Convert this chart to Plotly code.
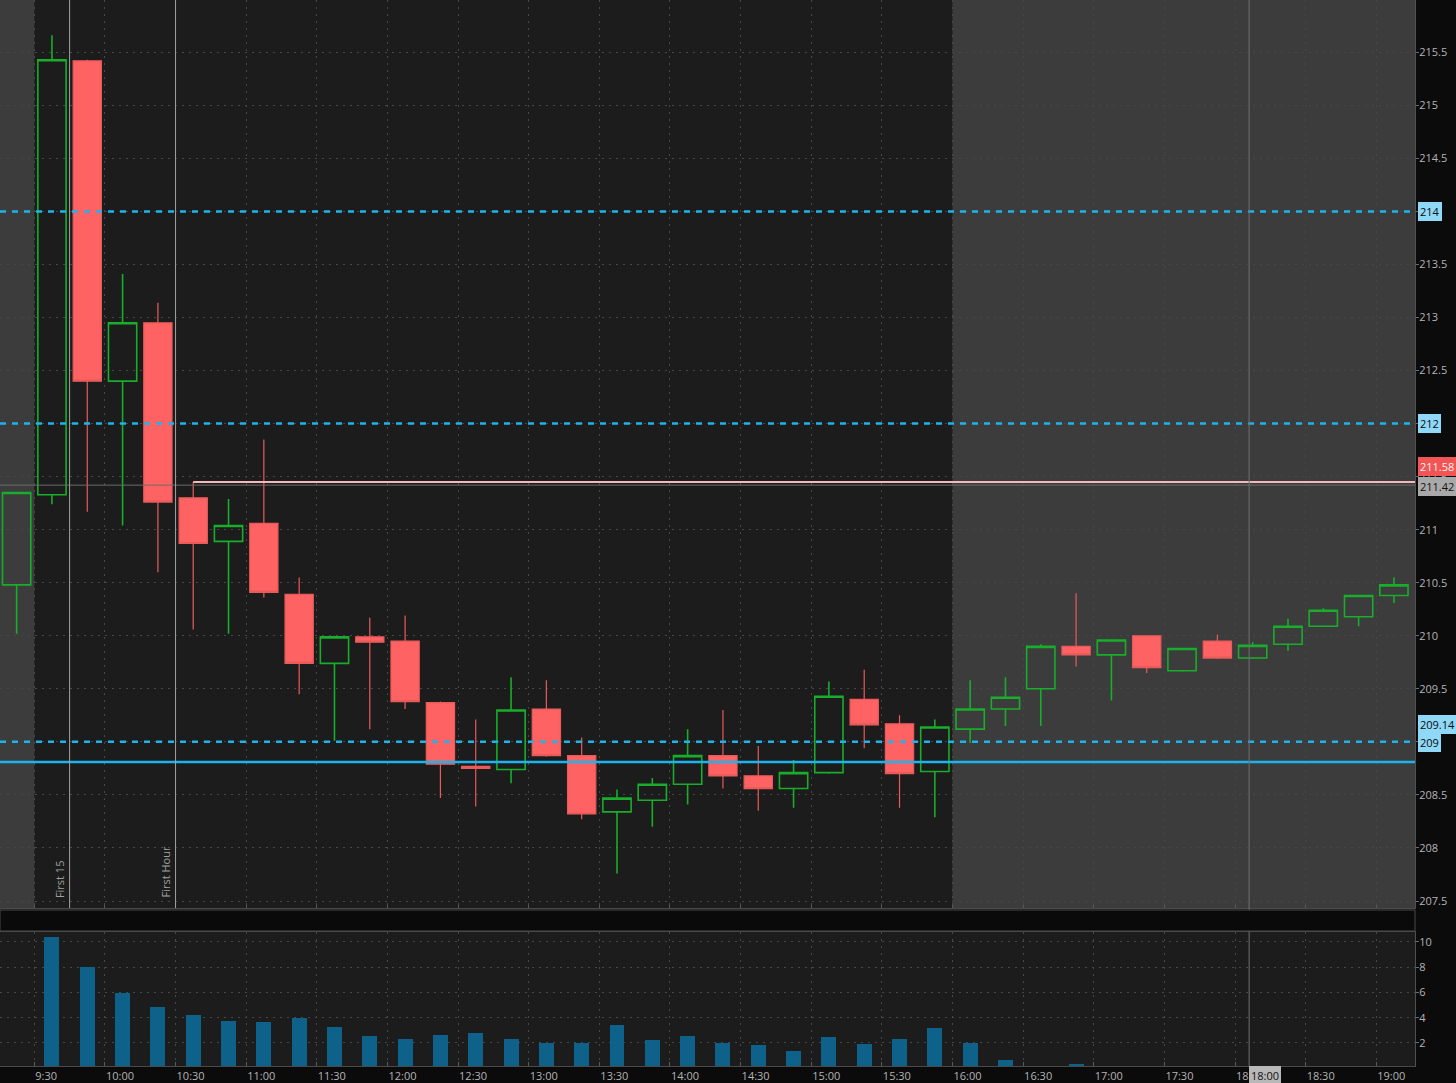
import pandas as pd
import plotly.graph_objects as go

# ---------------- data ----------------
DAY = "2024-01-02"
candle_times = ["9:15", "9:30", "9:45", "10:00", "10:15", "10:30", "10:45", "11:00", "11:15", "11:30",
                "11:45", "12:00", "12:15", "12:30", "12:45", "13:00", "13:15", "13:30", "13:45", "14:00",
                "14:15", "14:30", "14:45", "15:00", "15:15", "15:30", "15:45", "16:00", "16:15", "16:30",
                "16:45", "17:00", "17:15", "17:30", "17:45", "18:00", "18:15", "18:30", "18:45", "19:00"]
opens = [210.48, 211.33, 215.42, 212.40, 212.95, 211.30, 210.89, 211.06, 210.39, 209.74,
         209.99, 209.95, 209.37, 208.77, 208.74, 209.31, 208.87, 208.34, 208.45, 208.60,
         208.87, 208.68, 208.56, 208.71, 209.40, 209.17, 208.72, 209.12, 209.31, 209.50,
         209.90, 209.82, 210.00, 209.67, 209.95, 209.79, 209.92, 210.09, 210.18, 210.38]
highs = [211.35, 215.66, 215.43, 213.41, 213.14, 211.45, 211.29, 211.85, 210.55, 210.00,
         210.17, 210.19, 209.38, 209.21, 209.61, 209.58, 209.04, 208.55, 208.66, 209.12,
         209.30, 208.96, 208.83, 209.57, 209.68, 209.25, 209.21, 209.58, 209.61, 209.92,
         210.40, 209.96, 210.00, 209.88, 210.01, 209.94, 210.16, 210.26, 210.38, 210.55]
lows = [210.02, 211.24, 211.17, 211.04, 210.60, 210.06, 210.02, 210.36, 209.45, 209.01,
        209.12, 209.31, 208.47, 208.39, 208.61, 208.86, 208.27, 207.76, 208.20, 208.41,
        208.56, 208.35, 208.38, 208.70, 208.94, 208.38, 208.29, 208.99, 209.15, 209.15,
        209.71, 209.39, 209.65, 209.66, 209.78, 209.78, 209.86, 210.09, 210.09, 210.31]
closes = [211.35, 215.43, 212.40, 212.95, 211.26, 210.87, 211.04, 210.41, 209.74, 209.99,
          209.94, 209.38, 208.79, 208.75, 209.30, 208.87, 208.32, 208.47, 208.60, 208.87,
          208.68, 208.56, 208.71, 209.43, 209.16, 208.70, 209.14, 209.31, 209.42, 209.90,
          209.82, 209.96, 209.70, 209.88, 209.79, 209.91, 210.09, 210.24, 210.38, 210.48]
volumes = [0, 10.4, 8.03, 5.97, 4.84, 4.19, 3.74, 3.66, 3.95, 3.26,
           2.53, 2.29, 2.61, 2.76, 2.29, 2.0, 2.0, 3.42, 2.24, 2.53,
           2.0, 1.84, 1.39, 2.45, 1.92, 2.31, 3.18, 2.0, 0.66, 0,
           0.3, 0, 0, 0, 0, 0, 0, 0, 0, 0]

time_ticks = ["9:30", "10:00", "10:30", "11:00", "11:30", "12:00", "12:30", "13:00", "13:30", "14:00",
              "14:30", "15:00", "15:30", "16:00", "16:30", "17:00", "17:30", "18:00", "18:30", "19:00"]
price_ticks = [207.5, 208, 208.5, 209, 209.5, 210, 210.5, 211, 211.5, 212, 212.5, 213, 213.5, 214,
               214.5, 215, 215.5]
volume_ticks = [2, 4, 6, 8, 10]

dotted_levels = [214, 212, 209]
solid_level = 208.81
pink_level = 211.45
pink_start = "10:30"
crosshair_price = 211.42
crosshair_time = "18:06"
crosshair_label = "18:00"
session_open, session_close = "9:30", "16:00"
first15_time, first_hour_time = "9:45", "10:30"
view_start, view_end = "9:15:26", "19:16:27"

# (text, value, background, text colour, vertical nudge in px)
bubbles = [("214", 214, "#8fd8f7", "#0a0a0a", 0),
           ("212", 212, "#8fd8f7", "#0a0a0a", 0),
           ("211.58", 211.58, "#f25555", "#f4f4f4", 2),
           ("211.42", 211.42, "#a9a9a9", "#111111", -1),
           ("209.14", 209.14, "#8fd8f7", "#0a0a0a", 3),
           ("209", 209.0, "#8fd8f7", "#0a0a0a", -1)]


def ts(hm):
    return pd.Timestamp(f"{DAY} {hm}")


# ---------------- styles ----------------
W, H = 1456, 1083
PLOT_RIGHT = 1415
BG_DARK = "#1c1c1c"
BG_LIGHT = "#3c3c3c"
PAPER = "#0b0b0b"
GRID = "#474747"
TXT = "#b4b4b4"
FONT = "Open Sans"
BLUE = "#1cb4ee"
PERIOD_MS = 15 * 60 * 1000

price_dom = [(H - 908) / H, 1.0]
vol_dom = [(H - 1066) / H, (H - 932) / H]
x_range = [ts(view_start), ts(view_end)]

x = [ts(t) for t in candle_times]

fig = go.Figure()

fig.add_trace(go.Candlestick(
    x=x, open=opens, high=highs, low=lows, close=closes,
    xperiod=PERIOD_MS, xperiodalignment="middle",
    increasing=dict(line=dict(color="#18ad2a", width=1.6), fillcolor="rgba(0,0,0,0)"),
    decreasing=dict(line=dict(color="#e95a5a", width=1.2), fillcolor="#ff6262"),
    whiskerwidth=0, hoverinfo="skip", showlegend=False, xaxis="x", yaxis="y"))

fig.add_trace(go.Bar(
    x=x, y=volumes, xperiod=PERIOD_MS, xperiodalignment="middle",
    width=15 / 35.32 * PERIOD_MS, marker=dict(color="#0e6189", line=dict(width=0)),
    hoverinfo="skip", showlegend=False, xaxis="x2", yaxis="y2"))

# pink level line from the 10:30 candle to the right edge
fig.add_trace(go.Scatter(
    x=[ts(pink_start) + pd.Timedelta(minutes=7.5), x_range[1]], y=[pink_level, pink_level],
    mode="lines", line=dict(color="#f3b9b9", width=2), hoverinfo="skip", showlegend=False,
    xaxis="x", yaxis="y"))

shapes = []
# session shading (price panel only)
shapes.append(dict(type="rect", xref="x", yref="y domain", x0=x_range[0], x1=ts(session_open),
                   y0=0, y1=1, fillcolor=BG_LIGHT, line=dict(width=0), layer="below"))
shapes.append(dict(type="rect", xref="x", yref="y domain", x0=ts(session_close), x1=x_range[1],
                   y0=0, y1=1, fillcolor=BG_LIGHT, line=dict(width=0), layer="below"))
# level lines
for lv in dotted_levels:
    shapes.append(dict(type="line", xref="x domain", yref="y", x0=0, x1=1, y0=lv, y1=lv,
                       line=dict(color=BLUE, width=2.5, dash="6px,6px")))
shapes.append(dict(type="line", xref="x domain", yref="y", x0=0, x1=1, y0=solid_level, y1=solid_level,
                   line=dict(color=BLUE, width=2.5)))
# crosshair
shapes.append(dict(type="line", xref="x domain", yref="y", x0=0, x1=1, y0=crosshair_price,
                   y1=crosshair_price, line=dict(color="#6c6c6c", width=1)))
shapes.append(dict(type="line", xref="x", yref="paper", x0=ts(crosshair_time), x1=ts(crosshair_time),
                   y0=vol_dom[0], y1=1, line=dict(color="#707070", width=1)))
# first 15 / first hour markers
for t in (first15_time, first_hour_time):
    shapes.append(dict(type="line", xref="x", yref="y domain", x0=ts(t), x1=ts(t), y0=0, y1=1,
                       line=dict(color="#a2a2a2", width=1)))
# separator band between panels
shapes.append(dict(type="rect", xref="paper", yref="paper", x0=0, x1=1,
                   y0=(H - 931) / H, y1=(H - 910) / H, fillcolor="#0a0a0a",
                   line=dict(color="#4a4a4a", width=1)))

annotations = []
for label, t in (("First 15", first15_time), ("First Hour", first_hour_time)):
    annotations.append(dict(text=label, x=ts(t), xref="x", y=0, yref="y domain",
                            xanchor="right", yanchor="bottom", textangle=-90, showarrow=False,
                            xshift=-1, yshift=8, font=dict(family=FONT, size=11, color="#a0a0a0")))
for text, val, bg, fg, nudge in bubbles:
    annotations.append(dict(text=text, x=1, xref="paper", xshift=3, y=val, yref="y", yshift=nudge,
                            xanchor="left", yanchor="middle", showarrow=False, bgcolor=bg,
                            bordercolor=bg, borderpad=1, font=dict(family=FONT, size=11, color=fg)))
annotations.append(dict(text=crosshair_label, x=ts(crosshair_time), xref="x", y=(H - 1075) / H,
                        yref="paper", xanchor="left", yanchor="middle", showarrow=False,
                        bgcolor="#b8b8b8", bordercolor="#b8b8b8", borderpad=1,
                        font=dict(family=FONT, size=11, color="#111111")))

xt_vals = [ts(t) for t in time_ticks]
common_x = dict(type="date", range=x_range, tickvals=xt_vals, showgrid=True, gridcolor=GRID,
                griddash="2px,5px", gridwidth=1, zeroline=False)

fig.update_layout(
    width=W, height=H, margin=dict(l=0, r=W - PLOT_RIGHT, t=0, b=0),
    paper_bgcolor=PAPER, plot_bgcolor=BG_DARK, boxgap=0.2, boxgroupgap=0, bargap=0,
    font=dict(family=FONT, size=11, color=TXT), showlegend=False,
    shapes=shapes, annotations=annotations,
    xaxis=dict(**common_x, anchor="y", showticklabels=False, ticks="inside", ticklen=3,
               tickcolor="#5a5a5a", showline=True, linecolor="#4a4a4a", rangeslider=dict(visible=False)),
    yaxis=dict(domain=price_dom, range=[207.434, 215.993], side="right", tickvals=price_ticks,
               ticktext=[f"{v:g}" for v in price_ticks], showgrid=True, gridcolor=GRID,
               griddash="2px,5px", zeroline=False, ticks="outside", ticklen=3, tickcolor="#6a6a6a",
               ticklabelstandoff=-2,
               showline=True, linecolor="#505050", tickfont=dict(family=FONT, size=11, color=TXT),
               anchor="x"),
    xaxis2=dict(**common_x, anchor="y2", matches="x", ticktext=time_ticks, ticks="inside", ticklen=4,
                tickcolor="#5a5a5a", showline=True, linecolor="#4a4a4a", mirror=True,
                ticklabelposition="outside right", tickfont=dict(family=FONT, size=11, color=TXT)),
    yaxis2=dict(domain=vol_dom, range=[0.18, 10.77], side="right", tickvals=volume_ticks,
                showgrid=True, gridcolor=GRID, griddash="2px,5px", zeroline=False, ticks="outside",
                ticklen=3, tickcolor="#6a6a6a", showline=True, linecolor="#505050", mirror=True,
                ticklabelstandoff=-2,
                tickfont=dict(family=FONT, size=11, color=TXT), anchor="x2"),
)

fig.write_html("out.html", config={"displayModeBar": False},
               post_script="document.body.style.margin='0';document.body.style.padding='0';"
                           "document.body.style.background='#0b0b0b';")
